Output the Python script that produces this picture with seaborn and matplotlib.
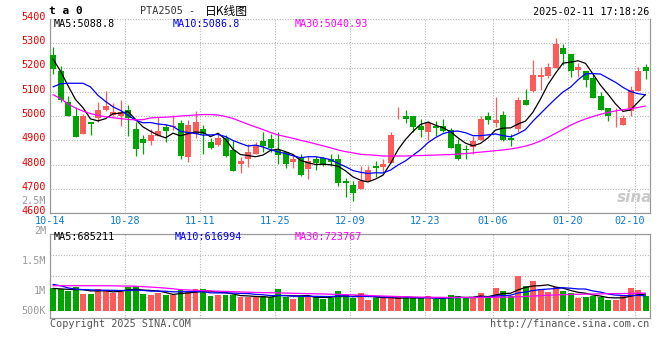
import numpy as np
import pandas as pd
import matplotlib
matplotlib.use("Agg")
import matplotlib.pyplot as plt
import matplotlib.transforms as mtransforms
import seaborn as sns

# trading days shown (MM-DD)
dates = ["10-14", "10-15", "10-16", "10-17", "10-18", "10-21", "10-22", "10-23", "10-24", "10-25",
         "10-28", "10-29", "10-30", "10-31", "11-01", "11-04", "11-05", "11-06", "11-07", "11-08",
         "11-11", "11-12", "11-13", "11-14", "11-15", "11-18", "11-19", "11-20", "11-21", "11-22",
         "11-25", "11-26", "11-27", "11-28", "11-29", "12-02", "12-03", "12-04", "12-05", "12-06",
         "12-09", "12-10", "12-11", "12-12", "12-13", "12-16", "12-17", "12-18", "12-19", "12-20",
         "12-23", "12-24", "12-25", "12-26", "12-27", "12-30", "12-31", "01-02", "01-03", "01-06",
         "01-07", "01-08", "01-09", "01-10", "01-13", "01-14", "01-15", "01-16", "01-17", "01-20",
         "01-21", "01-22", "01-23", "01-24", "01-27", "02-05", "02-06", "02-07", "02-10", "02-11"]
tick_dates = ["10-14", "10-28", "11-11", "11-25", "12-09", "12-23", "01-06", "01-20", "02-10"]

opens = [5250, 5187, 5056, 5001, 4927, 4977, 4990, 5023, 5006, 5001,
         5026, 4946, 4905, 4897, 4919, 4955, 4954, 4971, 4832, 4927,
         4946, 4892, 4881, 4909, 4859, 4801, 4821, 4845, 4897, 4905,
         4859, 4852, 4812, 4826, 4780, 4821, 4826, 4823, 4821, 4733,
         4714, 4698, 4733, 4793, 4791, 4807, 5015, 5001, 5001, 4957,
         4935, 4959, 4957, 4941, 4886, 4864, 4873, 4903, 5001, 4971,
         5006, 4909, 4946, 5064, 5105, 5162, 5165, 5200, 5280, 5255,
         5190, 5184, 5157, 5083, 5031, 4999, 4963, 5020, 5105, 5203]
highs = [5283, 5207, 5083, 5037, 5009, 4977, 5056, 5105, 5053, 5066,
         5047, 4974, 4922, 4946, 4996, 4966, 5006, 4982, 4982, 5020,
         4963, 4911, 4930, 4922, 4897, 4832, 4884, 4892, 4933, 4927,
         4933, 4852, 4843, 4843, 4834, 4834, 4829, 4845, 4843, 4744,
         4730, 4794, 4794, 4815, 4821, 4933, 5037, 5023, 5001, 4987,
         4979, 4979, 4987, 4949, 4905, 4880, 4919, 5001, 5017, 5078,
         5020, 4927, 5078, 5110, 5231, 5201, 5217, 5321, 5296, 5256,
         5217, 5184, 5173, 5097, 5031, 5031, 5006, 5124, 5203, 5214]
lows = [5173, 5058, 4998, 4913, 4924, 4922, 4974, 5020, 5001, 4960,
        4919, 4837, 4845, 4880, 4916, 4894, 4941, 4821, 4812, 4908,
        4843, 4862, 4878, 4831, 4772, 4763, 4788, 4844, 4853, 4853,
        4801, 4785, 4785, 4753, 4741, 4777, 4793, 4795, 4711, 4668,
        4648, 4697, 4733, 4747, 4769, 4806, 4987, 4971, 4933, 4914,
        4903, 4916, 4935, 4870, 4818, 4823, 4843, 4900, 4968, 4955,
        4897, 4875, 4933, 5044, 5097, 5108, 5157, 5197, 5209, 5162,
        5162, 5121, 5074, 5023, 4979, 4955, 4962, 5001, 5102, 5151]
closes = [5195, 5064, 4998, 4914, 4998, 4966, 5023, 5042, 5015, 5015,
          4993, 4864, 4889, 4922, 4938, 4938, 4957, 4837, 4963, 4976,
          4927, 4870, 4908, 4837, 4775, 4815, 4851, 4881, 4875, 4867,
          4840, 4801, 4821, 4758, 4815, 4807, 4804, 4812, 4725, 4722,
          4681, 4733, 4777, 4785, 4804, 4922, 5017, 4987, 4955, 4944,
          4971, 4951, 4938, 4870, 4821, 4859, 4897, 4987, 4984, 4982,
          4900, 4901, 5067, 5045, 5168, 5168, 5203, 5296, 5255, 5187,
          5200, 5149, 5075, 5026, 4998, 5001, 4993, 5108, 5184, 5184]

ma5 = [5235, 5185, 5125, 5068, 5034, 4988, 4980, 4989, 5009, 5012,
       5018, 4986, 4955, 4937, 4921, 4910, 4929, 4918, 4927, 4934,
       4932, 4915, 4929, 4904, 4863, 4841, 4837, 4832, 4839, 4858,
       4863, 4853, 4841, 4817, 4807, 4800, 4801, 4799, 4793, 4774,
       4749, 4735, 4728, 4740, 4756, 4804, 4861, 4903, 4937, 4965,
       4975, 4962, 4952, 4935, 4910, 4888, 4877, 4887, 4910, 4942,
       4950, 4951, 4967, 4979, 5016, 5070, 5130, 5176, 5218, 5222,
       5228, 5217, 5173, 5127, 5090, 5050, 5019, 5025, 5057, 5089]
ma10 = [5120, 5133, 5135, 5135, 5135, 5120, 5085, 5060, 5038, 5023,
        5003, 4983, 4972, 4973, 4967, 4964, 4957, 4937, 4932, 4928,
        4921, 4922, 4924, 4915, 4899, 4887, 4876, 4880, 4872, 4861,
        4852, 4845, 4836, 4828, 4832, 4832, 4827, 4820, 4805, 4791,
        4775, 4768, 4763, 4766, 4765, 4777, 4798, 4815, 4838, 4861,
        4890, 4911, 4927, 4936, 4938, 4931, 4919, 4919, 4922, 4926,
        4919, 4914, 4927, 4944, 4979, 5010, 5041, 5071, 5099, 5119,
        5149, 5174, 5175, 5173, 5156, 5139, 5118, 5101, 5092, 5087]
ma30 = [5088, 5072, 5050, 5033, 5020, 5010, 5002, 4997, 4993, 4989,
        4986, 4984, 4985, 4992, 4994, 4995, 4997, 5000, 5002, 5004,
        5006, 5006, 5004, 4998, 4990, 4978, 4966, 4955, 4944, 4932,
        4922, 4915, 4908, 4900, 4893, 4885, 4877, 4869, 4860, 4853,
        4848, 4842, 4840, 4838, 4835, 4835, 4835, 4835, 4836, 4837,
        4838, 4839, 4840, 4841, 4843, 4845, 4848, 4851, 4854, 4857,
        4860, 4864, 4869, 4876, 4885, 4897, 4912, 4928, 4945, 4962,
        4976, 4988, 4998, 5007, 5015, 5021, 5026, 5030, 5035, 5041]

# volume, thousands of lots
vol_k = [949, 894, 825, 962, 701, 701, 894, 852, 729, 825,
         990, 1031, 688, 646, 729, 660, 632, 866, 770, 880,
         880, 619, 660, 660, 632, 550, 550, 550, 591, 550,
         894, 550, 481, 591, 619, 550, 495, 509, 811, 632,
         509, 729, 440, 509, 509, 509, 605, 509, 509, 509,
         605, 481, 481, 632, 605, 509, 550, 729, 509, 935,
         811, 605, 1430, 1018, 1224, 894, 770, 962, 811, 743,
         509, 578, 605, 578, 440, 440, 605, 935, 853, 605]
vol_ma5_k = [920, 900, 880, 870, 866, 817, 817, 822, 775, 800,
             858, 885, 853, 836, 817, 751, 671, 707, 731, 762,
             806, 803, 762, 740, 690, 624, 610, 588, 575, 558,
             627, 627, 613, 613, 627, 558, 547, 553, 597, 599,
             591, 638, 624, 564, 539, 539, 514, 528, 528, 528,
             547, 523, 517, 542, 561, 542, 555, 605, 580, 646,
             707, 718, 858, 960, 1018, 1034, 1067, 974, 932, 836,
             759, 721, 649, 603, 542, 528, 534, 600, 655, 685]
vol_ma10_k = [1085, 1030, 940, 890, 870, 860, 850, 845, 840, 833,
              837, 851, 837, 806, 809, 804, 778, 780, 784, 789,
              778, 737, 734, 736, 726, 715, 707, 675, 657, 624,
              626, 619, 601, 594, 593, 593, 587, 583, 605, 613,
              575, 593, 589, 580, 569, 565, 576, 576, 546, 534,
              543, 519, 523, 535, 545, 545, 539, 561, 561, 604,
              624, 637, 732, 770, 832, 871, 893, 916, 946, 927,
              897, 894, 811, 767, 689, 644, 627, 624, 629, 617]
vol_ma30_k = [1030, 1030, 1030, 1030, 1030, 1030, 1030, 1028, 1025, 1020,
              1015, 1010, 990, 975, 955, 930, 905, 870, 855, 840,
              825, 815, 805, 795, 785, 775, 765, 755, 745, 740,
              735, 728, 720, 712, 705, 698, 690, 680, 672, 665,
              650, 640, 628, 617, 605, 595, 585, 575, 567, 560,
              556, 552, 549, 547, 546, 546, 547, 549, 552, 556,
              560, 565, 575, 590, 605, 620, 635, 650, 660, 670,
              678, 684, 690, 695, 700, 705, 710, 715, 719, 724]

RED = "#ff5a5a"
GREEN = "#00a400"
GRID = "#a8a8a8"
FRAME = "#9a9a9a"
MA_COLORS = {"MA5": "black", "MA10": "#0000ff", "MA30": "#ff00ff"}

n = len(dates)
idx = np.arange(n)
price = pd.DataFrame({"idx": idx, "open": opens, "high": highs, "low": lows, "close": closes})
price["dir"] = np.where(price["close"] >= price["open"], "up", "down")
price["color"] = price["dir"].map({"up": RED, "down": GREEN})

ma_long = pd.DataFrame({"idx": idx, "MA5": ma5, "MA10": ma10, "MA30": ma30}).melt(
    id_vars="idx", var_name="line", value_name="value")
vol = pd.DataFrame({"idx": idx, "volume": np.array(vol_k) * 1000, "dir": price["dir"]})
vol_long = pd.DataFrame({"idx": idx, "MA5": np.array(vol_ma5_k) * 1000,
                         "MA10": np.array(vol_ma10_k) * 1000,
                         "MA30": np.array(vol_ma30_k) * 1000}).melt(
    id_vars="idx", var_name="line", value_name="value")

sns.set_theme(style="white")
plt.rcParams["font.family"] = ["DejaVu Sans Mono", "Noto Sans CJK SC"]

W, H = 660, 360
fig = plt.figure(figsize=(W / 100, H / 100), dpi=100)
fig.patch.set_facecolor("white")


def frac(x, y):
    return x / W, 1 - y / H


ax = fig.add_axes([50 / W, (H - 213) / H, 600 / W, 194 / H])
axv = fig.add_axes([50 / W, (H - 318.3) / H, 600 / W, 84 / H])

tick_pos = [dates.index(d) - 0.4 for d in tick_dates]
grid_kw = dict(color=GRID, linewidth=0.8, linestyle=(0, (0.8, 1.6)))

# ---- price panel
ax.vlines(price["idx"], price["low"], price["high"], colors=price["color"], linewidth=0.9, zorder=2)
body = np.maximum((price["close"] - price["open"]).abs(), 3)
ax.bar(price["idx"], body, bottom=np.minimum(price["open"], price["close"]),
       width=0.8, color=price["color"], linewidth=0, zorder=3)
sns.lineplot(data=ma_long, x="idx", y="value", hue="line", palette=MA_COLORS,
             hue_order=["MA5", "MA10", "MA30"], legend=False, errorbar=None,
             linewidth=0.9, ax=ax, zorder=4)

ax.set_xlim(-0.4, n - 0.4)
ax.set_ylim(4600, 5400)
ax.set_yticks(range(4600, 5401, 100))
ax.set_yticklabels([str(v) for v in range(4600, 5401, 100)])
ax.set_xticks(tick_pos)
ax.set_xticklabels(tick_dates)
ax.grid(True, **grid_kw)
ax.set_xlabel("")
ax.set_ylabel("")
ax.tick_params(axis="both", length=0, labelsize=7.3)
ax.tick_params(axis="y", colors="#ee0000", pad=3)
ax.tick_params(axis="x", colors="#0a7ad0", pad=2.5)
lift = mtransforms.ScaledTranslation(0, 3 / 100, fig.dpi_scale_trans)
for lab in ax.get_yticklabels():
    lab.set_transform(lab.get_transform() + lift)
last = ax.get_xticklabels()[-1]
last.set_transform(last.get_transform() + mtransforms.ScaledTranslation(-5 / 100, 0, fig.dpi_scale_trans))
for side in ["left", "right", "bottom"]:
    ax.spines[side].set_color(FRAME)
    ax.spines[side].set_linewidth(0.9)
ax.spines["top"].set_visible(False)

# ---- volume panel
sns.barplot(data=vol, x="idx", y="volume", hue="dir", palette={"up": RED, "down": GREEN},
            dodge=False, width=0.8, linewidth=0, saturation=1, legend=False,
            errorbar=None, ax=axv, zorder=3)
sns.lineplot(data=vol_long, x="idx", y="value", hue="line", palette=MA_COLORS,
             hue_order=["MA5", "MA10", "MA30"], legend=False, errorbar=None,
             linewidth=0.9, ax=axv, zorder=4)
axv.set_xlim(-0.4, n - 0.4)
axv.set_ylim(-313000, 3150000)
axv.set_yticks([553000, 1419000, 2285000])
axv.set_yticklabels([])
axv.set_xticks(tick_pos)
axv.set_xticklabels([])
axv.grid(True, **grid_kw)
axv.set_xlabel("")
axv.set_ylabel("")
axv.tick_params(axis="both", length=0)
for side in ["left", "right", "bottom", "top"]:
    axv.spines[side].set_color(FRAME)
    axv.spines[side].set_linewidth(0.9)

# volume axis labels (placed as in the original panel)
for txt, y in [("2M", 231), ("1.5M", 260.7), ("1M", 291), ("500K", 311), ("2.5M", 200.5)]:
    fig.text(*frac(46, y), txt, ha="right", va="center", color="#9a9a9a", fontsize=7.3)

# ---- legends / headers
small = dict(fontsize=7.3, va="center", ha="left")
fig.text(*frac(54, 24), "MA5:5088.8", color="black", **small)
fig.text(*frac(173, 24), "MA10:5086.8", color="#0000ff", **small)
fig.text(*frac(295, 24), "MA30:5040.93", color="#ff00ff", **small)
fig.text(*frac(54, 237.5), "MA5:685211", color="black", **small)
fig.text(*frac(175, 237.5), "MA10:616994", color="#0000ff", **small)
fig.text(*frac(295, 237.5), "MA30:723767", color="#ff00ff", **small)

fig.text(*frac(49, 11), "t a 0", fontsize=8, fontweight="bold", va="center", ha="left", color="black")
fig.text(*frac(140, 11), "PTA2505 -", fontsize=7.3, va="center", ha="left", color="#333333")
fig.text(*frac(205, 11), "日K线图", fontsize=8.5, va="center", ha="left", color="black",
         family=["Noto Sans CJK SC", "DejaVu Sans"])
fig.text(*frac(649, 12), "2025-02-11 17:18:26", fontsize=7.3, va="center", ha="right", color="black")

fig.text(*frac(50, 324), "Copyright 2025 SINA.COM", fontsize=7.3, va="center", ha="left", color="#555555")
fig.text(*frac(649, 324), "http://finance.sina.com.cn", fontsize=7.3, va="center", ha="right", color="#555555")
fig.text(*frac(635, 197), "sina", fontsize=11, fontweight="bold", style="italic",
         va="center", ha="center", color="#c9c9c9", family=["DejaVu Sans"])

fig.savefig("out.png", dpi=100, facecolor="white")
